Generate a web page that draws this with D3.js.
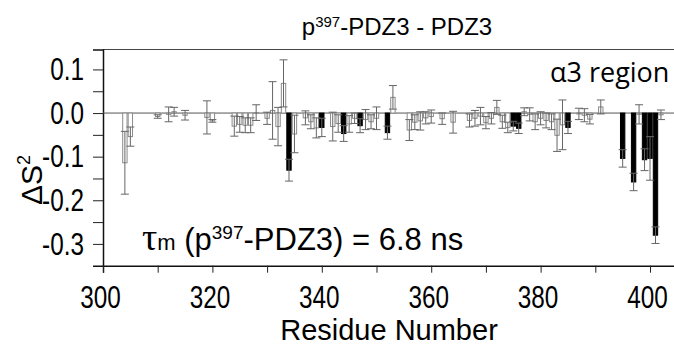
<!DOCTYPE html>
<html>
<head>
<meta charset="utf-8">
<script src="https://cdn.jsdelivr.net/npm/d3@7"></script>
<style>
  body { margin: 0; background: #fff; }
  text { font-family: "Liberation Sans", Arial, sans-serif; fill: #000; }
  .tick text { font-size: 32px; }
  .axis-label { font-size: 30px; }
  .region-label { font-family: "Open Sans", sans-serif; font-size: 27px; }
</style>
</head>
<body>
<svg width="674" height="347"></svg>
<script>
// residue numbers, delta S^2 and its error
const residues = [304, 305, 310, 312, 313, 315, 319, 320, 324, 325, 326, 327, 328, 330, 331, 332, 333, 334, 335,
  337, 338, 339, 340, 342, 343, 344, 345, 346, 347, 348, 349, 350, 352, 353,
  356, 357, 358, 359, 360, 362, 364, 367, 368, 369, 370, 371, 372, 373, 374, 375, 376, 377, 378, 379, 380,
  381, 382, 383, 384, 385, 387, 388, 389, 391, 395, 397, 398, 399, 400, 401, 402];
const deltaS2 = [-0.114, -0.054, -0.008, -0.003, 0.003, -0.005, -0.010, -0.018, -0.030, -0.026, -0.028, -0.028, 0.001, -0.012, 0.006, -0.031, 0.068, -0.131, -0.048,
  -0.011, -0.020, -0.034, -0.033, -0.031, -0.024, -0.047, -0.025, -0.012, -0.029, -0.015, -0.020, -0.012, -0.045, 0.036,
  -0.039, -0.021, -0.018, -0.011, -0.008, -0.013, -0.021, -0.017, -0.012, -0.007, -0.022, -0.012, 0.013, -0.020, -0.033, -0.030, -0.035, 0.003, -0.003, -0.020, -0.012,
  -0.017, -0.020, -0.051, -0.027, -0.033, -0.002, -0.005, -0.014, 0.014, -0.104, -0.158, -0.003, -0.107, -0.104, -0.280, -0.004];
const errors = [0.072, 0.022, 0.004, 0.017, 0.010, 0.011, 0.038, 0.003, 0.023, 0.018, 0.017, 0.017, 0.018, 0.014, 0.066, 0.044, 0.054, 0.025, 0.043,
  0.016, 0.016, 0.023, 0.021, 0.033, 0.020, 0.018, 0.019, 0.012, 0.016, 0.023, 0.016, 0.026, 0.015, 0.027,
  0.024, 0.017, 0.021, 0.014, 0.015, 0.013, 0.025, 0.015, 0.018, 0.020, 0.014, 0.013, 0.016, 0.015, 0.012, 0.011, 0.012, 0.009, 0.015, 0.018, 0.015,
  0.017, 0.018, 0.037, 0.057, 0.014, 0.013, 0.015, 0.011, 0.016, 0.020, 0.020, 0.022, 0.025, 0.050, 0.019, 0.011];
// residues drawn as filled bars
const highlighted = [334, 340, 344, 347, 352, 375, 376, 385, 395, 397, 399, 400, 401];

const xTicks = [300, 310, 320, 330, 340, 350, 360, 370, 380, 390, 400];
const yTicks = [0.1, 0.05, 0, -0.05, -0.1, -0.15, -0.2, -0.25, -0.3];
const yLabels = [0.1, 0, -0.1, -0.2, -0.3];

const data = residues.map((r, i) => ({
  residue: r, value: deltaS2[i], err: errors[i], filled: highlighted.includes(r)
}));

const svg = d3.select("svg");
const margin = { top: 49.5, left: 103, bottom: 265.7, right: 676 };
const squeeze = 0.76; // tick labels are a narrow face

const xScale = d3.scaleLinear()
  .domain([300, 404.75])
  .range([margin.left, margin.right]);

const yScale = d3.scaleLinear()
  .domain([-0.35, 0.1457])
  .range([margin.bottom, margin.top]);

const barW = 0.8 * (xScale(301) - xScale(300));

// frame top line
svg.append("line")
  .attr("x1", margin.left).attr("x2", margin.right)
  .attr("y1", margin.top).attr("y2", margin.top)
  .attr("stroke", "#444").attr("stroke-width", 1.2);

// y axis
const yAxisG = svg.append("g")
  .attr("transform", `translate(${margin.left},0)`)
  .call(d3.axisLeft(yScale)
    .tickValues(yTicks)
    .tickSize(10)
    .tickPadding(9)
    .tickFormat(d => yLabels.some(l => Math.abs(l - d) < 1e-9) ? d3.format(".1f")(d).replace("−", "-") : ""));
yAxisG.select(".domain").attr("stroke", "#111").attr("stroke-width", 1.5);
yAxisG.selectAll(".tick line").attr("stroke", "#222").attr("stroke-width", 1);
yAxisG.selectAll(".tick text")
  .attr("x", -19 / squeeze)
  .attr("transform", `scale(${squeeze},1)`);

// x axis
const xAxisG = svg.append("g")
  .attr("transform", `translate(0,${margin.bottom})`)
  .call(d3.axisBottom(xScale)
    .tickValues(xTicks)
    .tickSize(7)
    .tickPadding(13)
    .tickFormat(d => d % 20 === 0 ? d : ""));
xAxisG.select(".domain").attr("stroke", "#111").attr("stroke-width", 1.5);
xAxisG.selectAll(".tick line").attr("stroke", "#222").attr("stroke-width", 1);
xAxisG.selectAll(".tick text")
  .attr("x", -3 / squeeze)
  .attr("transform", `scale(${squeeze},1)`);

// zero line
svg.append("line")
  .attr("x1", margin.left).attr("x2", margin.right)
  .attr("y1", yScale(0)).attr("y2", yScale(0))
  .attr("stroke", "#555").attr("stroke-width", 1);

// bars
svg.append("g").selectAll("rect").data(data)
  .enter().append("rect")
  .attr("x", d => xScale(d.residue) - barW / 2)
  .attr("y", d => yScale(Math.max(0, d.value)))
  .attr("width", barW)
  .attr("height", d => Math.abs(yScale(d.value) - yScale(0)))
  .attr("fill", d => d.filled ? "#000" : "#fff")
  .attr("stroke", d => d.filled ? "#000" : "#8a8a8a")
  .attr("stroke-width", 1);

// error bars
const capW = 4;
const eg = svg.append("g").attr("stroke", "#666").attr("stroke-width", 1);
data.forEach(d => {
  const x = xScale(d.residue);
  const y1 = yScale(d.value - d.err);
  const y2 = yScale(d.value + d.err);
  eg.append("line").attr("x1", x).attr("x2", x).attr("y1", y1).attr("y2", y2);
  eg.append("line").attr("x1", x - capW).attr("x2", x + capW).attr("y1", y1).attr("y2", y1);
  eg.append("line").attr("x1", x - capW).attr("x2", x + capW).attr("y1", y2).attr("y2", y2);
});

// title
const title = svg.append("text")
  .attr("x", 397).attr("y", 35)
  .attr("text-anchor", "middle")
  .style("font-size", "24px");
title.append("tspan").text("p");
title.append("tspan").attr("dy", -8).style("font-size", "15px").text("397");
title.append("tspan").attr("dy", 8).text("-PDZ3 - PDZ3");

// axis labels
svg.append("text")
  .attr("class", "axis-label")
  .attr("x", 389).attr("y", 340)
  .attr("text-anchor", "middle")
  .style("font-size", "29px")
  .text("Residue Number");

const yLab = svg.append("text")
  .attr("class", "axis-label")
  .attr("transform", "translate(42,180) rotate(-90)")
  .attr("text-anchor", "middle");
yLab.append("tspan").text("\u0394S");
yLab.append("tspan").attr("dy", -12).style("font-size", "18px").text("2");

// annotations
svg.append("text")
  .attr("class", "region-label")
  .attr("x", 550).attr("y", 82)
  .text("\u03b13 region");

const tau = svg.append("text")
  .attr("x", 142).attr("y", 250)
  .style("font-size", "31px");
tau.append("tspan").style("font-family", "'Liberation Serif', serif").style("font-size", "38px").text("\u03c4");
tau.append("tspan").style("font-size", "22px").text("m");
tau.append("tspan").text(" (p");
tau.append("tspan").attr("dy", -11).style("font-size", "19px").text("397");
tau.append("tspan").attr("dy", 11).text("-PDZ3) = 6.8 ns");
</script>
</body>
</html>
